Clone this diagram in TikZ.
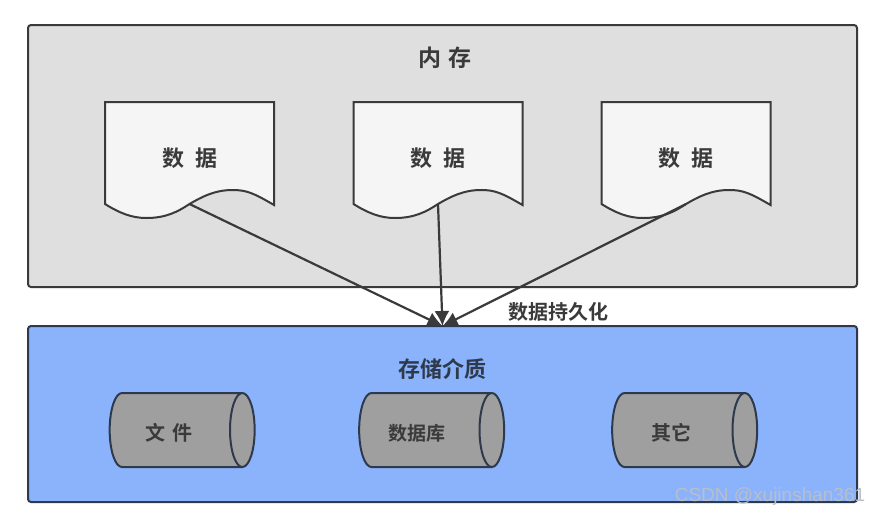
\documentclass[tikz,border=0pt]{standalone}
\usepackage{fontspec}
\usetikzlibrary{positioning,arrows.meta,shapes.geometric}
\setmainfont{Liberation Sans}
\newfontfamily\cjk{Noto Sans CJK SC}[BoldFont={Noto Sans CJK SC Bold}]
\definecolor{cgray}{HTML}{DFDFDF}
\definecolor{cpage}{HTML}{F5F5F5}
\definecolor{cblue}{HTML}{8BB3FB}
\definecolor{cdisk}{HTML}{A09FA0}
\definecolor{cline}{HTML}{3A3A3A}
\definecolor{cnavy}{HTML}{2E3A4C}
\definecolor{cmark}{HTML}{B9BEC8}
% page with a wavy lower edge, centred on x, label on top
\newcommand{\docpage}[2]{%
  \draw[pagepath] (#2-84.5,102) -- (#2+84.5,102) -- (#2+84.5,205)
    .. controls (#2+64,193) and (#2+57,190) .. (#2+43,190)
    .. controls (#2+25,190) and (#2+12,197) .. (#2,204)
    .. controls (#2-12,212) and (#2-24,218) .. (#2-43,218)
    .. controls (#2-58,218) and (#2-70,213) .. (#2-84.5,204) -- cycle;
  \node[tag,font=\cjk\bfseries\fontsize{22}{26}\selectfont] (#1) at (#2,158) {数\,\,\,据};
  \coordinate (#1w) at (#2,204);}
\begin{document}
\begin{tikzpicture}[x=1pt,y=-1pt,>={Latex[length=15pt,width=15pt]},
  panel/.style={draw=cline,line width=2pt,rounded corners=3pt,outer sep=0pt,
                minimum width=829pt},
  pagepath/.style={draw=cline,line width=2pt,fill=cpage},
  tag/.style={font=\cjk\bfseries,text=cline,inner sep=0pt},
  disk/.style={cylinder,draw=cnavy,line width=2pt,fill=cdisk,aspect=1.3,
               minimum width=74pt,minimum height=145pt,inner sep=0pt,
               font=\cjk\bfseries\fontsize{20}{24}\selectfont},
  disktag/.style={tag,font=\cjk\bfseries\fontsize{20}{24}\selectfont},
  flow/.style={->,draw=cline,line width=2.2pt}]
\useasboundingbox (0,0) rectangle (882,517);
\node[panel,fill=cgray,minimum height=262pt] (mem) at (442.5,156) {};
\node[panel,draw=cnavy,fill=cblue,minimum height=176pt] (store) at (442.5,414) {};
\node[tag,font=\cjk\bfseries\fontsize{23}{26}\selectfont] (memtitle) at (445,57.5) {内\,\,存};
\docpage{d1}{189.5}
\docpage{d2}{438}
\docpage{d3}{686}
\node[tag,text=cnavy,font=\cjk\bfseries\fontsize{22}{24}\selectfont] (storetitle) at (442,369) {存储介质};
\node[disk] (file) at (175.5,430) {\phantom{文}};
\node[disk] (db) at (425,430) {\phantom{文}};
\node[disk] (other) at (678,430) {\phantom{文}};
\node[disktag] (filetag) at (169,433) {文\,\,件};
\node[disktag,font=\cjk\bfseries\fontsize{19}{24}\selectfont] (dbtag) at (417,433) {数据库};
\node[disktag] (othertag) at (671,433) {其它};
\node[tag,font=\cjk\bfseries\fontsize{20}{22}\selectfont] (persist) at (558,312) {数据持久化};
\draw[flow] (d1w) -- (store.north);
\draw[flow] (d2w) -- (store.north);
\draw[flow] (d3w) -- (store.north);
\node[text=cmark,font=\fontsize{19}{20}\selectfont,inner sep=0pt] (mark) at (770,497) {CSDN @xujinshan361};
\end{tikzpicture}
\end{document}
